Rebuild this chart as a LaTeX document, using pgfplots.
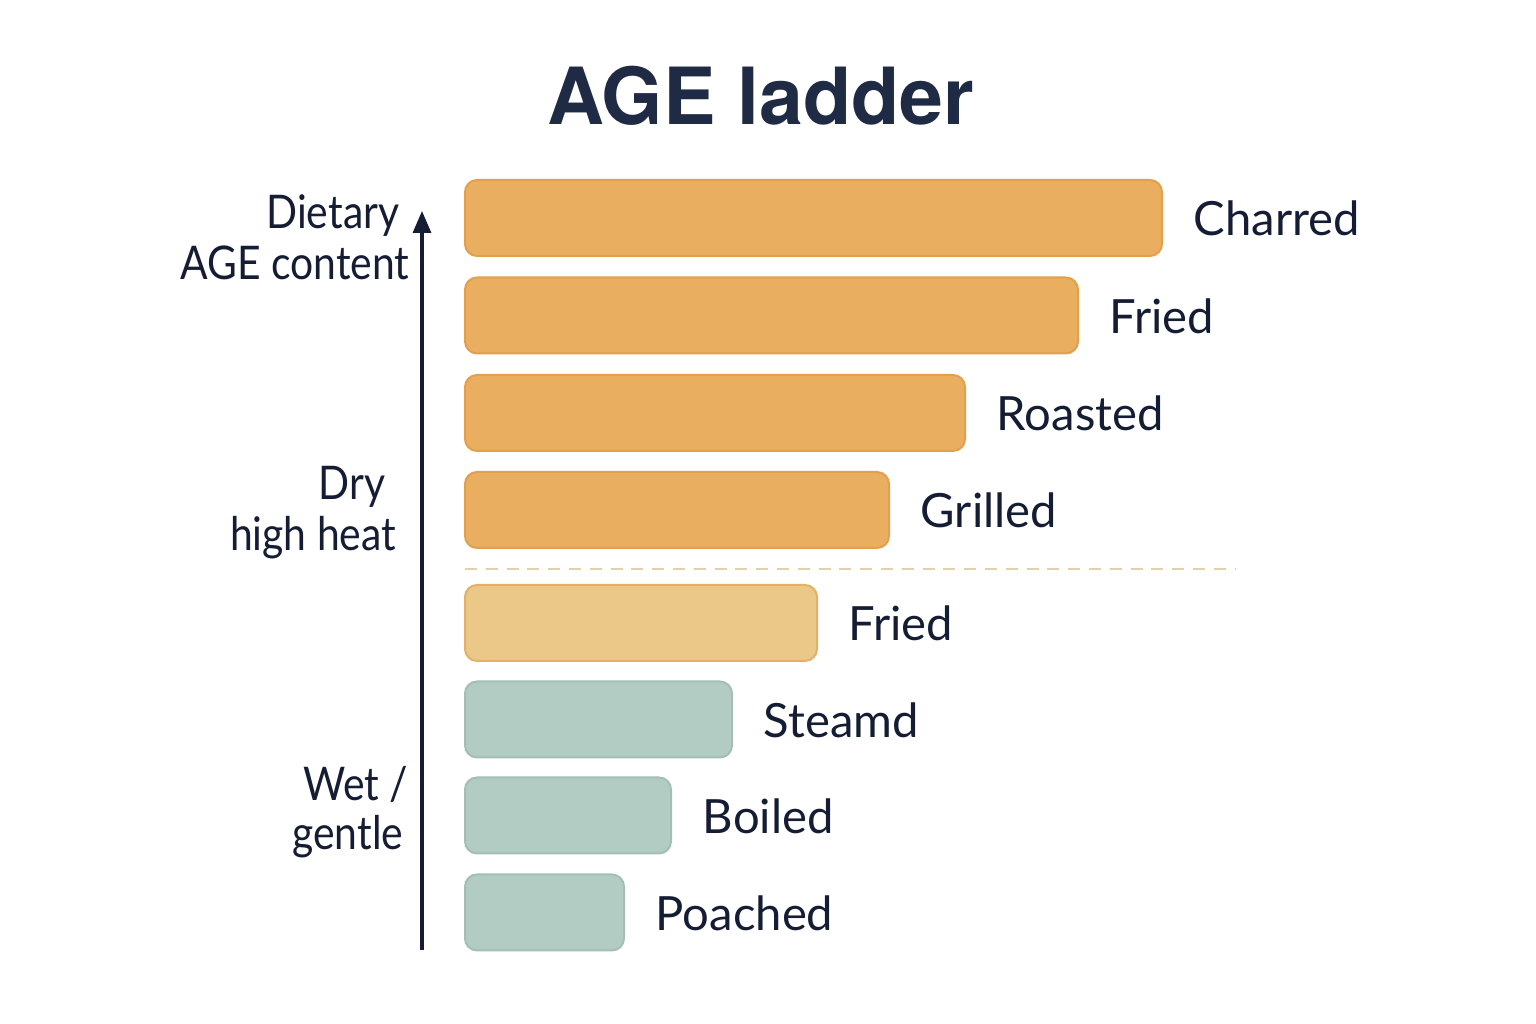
\documentclass[border=0pt]{standalone}
\usepackage{pgfplots}
\pgfplotsset{compat=1.18}
\usepackage{fontspec}
\setmainfont{Lato}
\newfontfamily\titlefont{TeX Gyre Heros}
\newfontfamily\narrowfont[FakeStretch=0.88]{Lato}
\usetikzlibrary{arrows.meta}
\definecolor{navy}{HTML}{141D33}
\definecolor{titlec}{HTML}{1F2A45}
\definecolor{orfill}{HTML}{E9AE5F}
\definecolor{ordraw}{HTML}{E3A04C}
\definecolor{lofill}{HTML}{ECC888}
\definecolor{lodraw}{HTML}{E2B066}
\definecolor{tefill}{HTML}{B2CCC3}
\definecolor{tedraw}{HTML}{A3BFB5}
\definecolor{dashc}{HTML}{E3CFAA}
\begin{document}
\begin{tikzpicture}
\useasboundingbox (0,0) rectangle (384pt,256pt);
\begin{axis}[
  at={(0,0)}, anchor=south west,
  scale only axis, width=384pt, height=256pt,
  xmin=-465, xmax=1071, ymin=0, ymax=1024, y dir=reverse,
  axis lines=none, clip=false,
  xbar, bar width=76, bar shift=0pt,
  point meta=explicit symbolic,
  nodes near coords,
]
\addplot[fill=orfill, draw=ordraw, line width=0.5pt, rounded corners=3pt,
  every node near coord/.append style={anchor=base west, inner sep=0pt, xshift=7.7pt, yshift=-4.4pt, font=\fontsize{11.8}{14}\selectfont, text=navy}]
  coordinates {(697,218) [Charred] (613,315.5) [Fried] (500,413) [Roasted] (424,510) [Grilled]};
\addplot[fill=lofill, draw=lodraw, line width=0.5pt, rounded corners=3pt,
  every node near coord/.append style={anchor=base west, inner sep=0pt, xshift=7.7pt, yshift=-4.4pt, font=\fontsize{11.8}{14}\selectfont, text=navy}]
  coordinates {(352,623) [Fried]};
\addplot[fill=tefill, draw=tedraw, line width=0.5pt, rounded corners=3pt,
  every node near coord/.append style={anchor=base west, inner sep=0pt, xshift=7.7pt, yshift=-4.4pt, font=\fontsize{11.8}{14}\selectfont, text=navy}]
  coordinates {(267,719.5) [Steamd] (206,815.5) [Boiled] (159,912.5) [Poached]};
\draw[dashc, line width=0.5pt, dash pattern=on 3pt off 2.2pt] (axis cs:0,569) -- (axis cs:770,569);
\draw[navy, line width=0.8pt, -{Triangle[length=5.5pt,width=4.5pt]}] (axis cs:-43,950) -- (axis cs:-43,211);
\begin{scope}[every node/.style={inner sep=0pt, font=\narrowfont\fontsize{11.6}{14}\selectfont, text=navy}]
\node[anchor=base east] at (axis cs:-65,229) {Dietary};
\node[anchor=base east] at (axis cs:-55,280) {AGE content};
\node[anchor=base east] at (axis cs:-79,500) {Dry};
\node[anchor=base east] at (axis cs:-68,551) {high heat};
\node[anchor=base east] at (axis cs:-56,801) {Wet /};
\node[anchor=base east] at (axis cs:-61,850) {gentle};
\end{scope}
\node[anchor=base, inner sep=0pt, text=titlec, font=\titlefont\bfseries\fontsize{19.7}{24}\selectfont] at (axis cs:296,125) {AGE ladder};
\end{axis}
\end{tikzpicture}
\end{document}
